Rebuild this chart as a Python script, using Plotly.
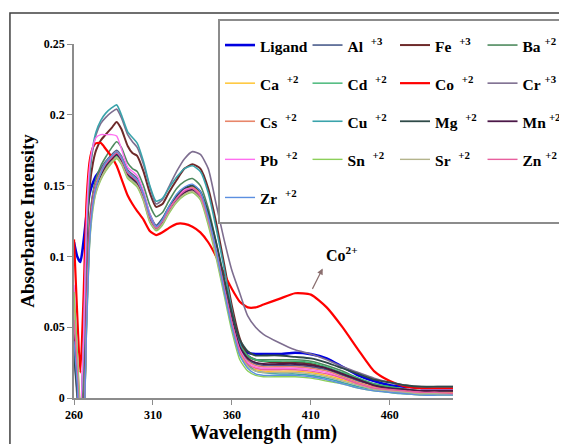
import plotly.graph_objects as go

wavelength = [260, 262, 264, 266, 268, 270, 272, 274, 277, 280, 284, 287, 290, 294, 297, 300,
              304, 308, 312, 316, 320, 325, 330, 335, 340, 345, 350, 355, 360, 365, 370, 375,
              380, 390, 400, 410, 420, 430, 440, 450, 460, 470, 480, 490, 500]

ligand = [0.110, 0.100, 0.096, 0.110, 0.130, 0.145, 0.152, 0.157, 0.161, 0.165, 0.169, 0.172, 0.168, 0.158, 0.155, 0.152,
          0.142, 0.127, 0.119, 0.125, 0.133, 0.141, 0.146, 0.147, 0.143, 0.127, 0.105, 0.079, 0.055, 0.038, 0.032, 0.031,
          0.031, 0.031, 0.032, 0.031, 0.028, 0.022, 0.016, 0.012, 0.009, 0.008, 0.007, 0.007, 0.007]
al = [0.035, 0.010, -0.020, 0.000, 0.075, 0.125, 0.144, 0.154, 0.162, 0.167, 0.172, 0.175, 0.171, 0.161, 0.158, 0.155,
      0.145, 0.130, 0.122, 0.127, 0.135, 0.143, 0.148, 0.150, 0.145, 0.128, 0.106, 0.080, 0.055, 0.036, 0.027, 0.024,
      0.023, 0.023, 0.023, 0.022, 0.020, 0.016, 0.012, 0.009, 0.007, 0.005, 0.005, 0.004, 0.004]
fe = [0.040, 0.010, -0.020, 0.030, 0.110, 0.150, 0.166, 0.175, 0.182, 0.186, 0.191, 0.195, 0.190, 0.178, 0.173, 0.171,
      0.160, 0.145, 0.135, 0.137, 0.145, 0.154, 0.162, 0.165, 0.162, 0.148, 0.124, 0.095, 0.065, 0.042, 0.030, 0.027,
      0.026, 0.025, 0.025, 0.024, 0.021, 0.017, 0.013, 0.009, 0.007, 0.006, 0.005, 0.005, 0.005]
ba = [0.050, 0.020, -0.020, 0.000, 0.080, 0.125, 0.145, 0.155, 0.164, 0.170, 0.177, 0.181, 0.177, 0.166, 0.162, 0.160,
      0.150, 0.136, 0.128, 0.131, 0.139, 0.148, 0.153, 0.155, 0.150, 0.134, 0.110, 0.083, 0.057, 0.037, 0.029, 0.027,
      0.027, 0.027, 0.027, 0.026, 0.023, 0.019, 0.014, 0.010, 0.008, 0.006, 0.005, 0.005, 0.005]
ca = [0.070, 0.030, -0.010, -0.020, 0.060, 0.115, 0.137, 0.147, 0.156, 0.162, 0.167, 0.170, 0.166, 0.156, 0.153, 0.150,
      0.140, 0.125, 0.119, 0.123, 0.131, 0.139, 0.144, 0.146, 0.141, 0.124, 0.102, 0.076, 0.051, 0.031, 0.023, 0.020,
      0.019, 0.019, 0.019, 0.018, 0.016, 0.013, 0.010, 0.007, 0.005, 0.004, 0.003, 0.003, 0.003]
cd = [0.040, 0.015, -0.020, -0.010, 0.065, 0.118, 0.139, 0.149, 0.157, 0.163, 0.168, 0.171, 0.167, 0.157, 0.154, 0.151,
      0.142, 0.127, 0.121, 0.126, 0.134, 0.142, 0.147, 0.149, 0.144, 0.128, 0.106, 0.080, 0.056, 0.038, 0.030, 0.027,
      0.026, 0.026, 0.026, 0.025, 0.022, 0.018, 0.014, 0.010, 0.008, 0.006, 0.005, 0.005, 0.004]
co = [0.112, 0.060, 0.018, 0.070, 0.140, 0.168, 0.177, 0.180, 0.180, 0.176, 0.170, 0.164, 0.155, 0.143, 0.137, 0.132,
      0.126, 0.118, 0.115, 0.117, 0.120, 0.123, 0.123, 0.121, 0.117, 0.110, 0.100, 0.088, 0.077, 0.068, 0.064, 0.064,
      0.066, 0.070, 0.074, 0.073, 0.064, 0.050, 0.034, 0.019, 0.012, 0.008, 0.007, 0.007, 0.007]
cr = [0.030, 0.000, -0.020, 0.040, 0.120, 0.158, 0.176, 0.186, 0.194, 0.198, 0.202, 0.204, 0.198, 0.186, 0.181, 0.177,
      0.165, 0.149, 0.137, 0.140, 0.149, 0.160, 0.169, 0.174, 0.172, 0.162, 0.137, 0.112, 0.090, 0.074, 0.058, 0.050,
      0.045, 0.039, 0.034, 0.031, 0.027, 0.022, 0.018, 0.014, 0.011, 0.009, 0.008, 0.008, 0.008]
cs = [0.050, 0.020, -0.020, -0.010, 0.070, 0.122, 0.142, 0.152, 0.160, 0.166, 0.171, 0.174, 0.170, 0.160, 0.157, 0.154,
      0.144, 0.128, 0.120, 0.125, 0.133, 0.141, 0.147, 0.149, 0.144, 0.127, 0.105, 0.079, 0.054, 0.035, 0.026, 0.023,
      0.022, 0.022, 0.022, 0.021, 0.019, 0.015, 0.011, 0.008, 0.006, 0.005, 0.004, 0.004, 0.004]
cu = [0.050, 0.020, -0.010, 0.030, 0.120, 0.160, 0.178, 0.188, 0.196, 0.201, 0.205, 0.207, 0.200, 0.188, 0.184, 0.180,
      0.167, 0.150, 0.139, 0.141, 0.148, 0.156, 0.162, 0.164, 0.160, 0.145, 0.120, 0.092, 0.062, 0.038, 0.024, 0.019,
      0.018, 0.017, 0.017, 0.016, 0.014, 0.011, 0.008, 0.006, 0.004, 0.003, 0.003, 0.003, 0.003]
mg = [0.030, 0.005, -0.030, -0.020, 0.060, 0.118, 0.140, 0.150, 0.158, 0.164, 0.170, 0.173, 0.169, 0.159, 0.156, 0.153,
      0.143, 0.128, 0.121, 0.126, 0.134, 0.142, 0.148, 0.150, 0.146, 0.131, 0.110, 0.085, 0.060, 0.041, 0.033, 0.030,
      0.030, 0.030, 0.029, 0.028, 0.025, 0.021, 0.017, 0.013, 0.011, 0.009, 0.008, 0.008, 0.008]
mn = [0.045, 0.015, -0.025, -0.015, 0.065, 0.120, 0.140, 0.150, 0.158, 0.164, 0.169, 0.172, 0.168, 0.158, 0.155, 0.152,
      0.142, 0.127, 0.119, 0.124, 0.132, 0.140, 0.145, 0.147, 0.142, 0.126, 0.104, 0.079, 0.055, 0.036, 0.028, 0.025,
      0.024, 0.024, 0.024, 0.023, 0.021, 0.017, 0.013, 0.009, 0.007, 0.006, 0.005, 0.005, 0.005]
pb = [0.080, 0.035, -0.010, 0.040, 0.130, 0.165, 0.178, 0.184, 0.186, 0.186, 0.186, 0.185, 0.176, 0.163, 0.160, 0.157,
      0.146, 0.130, 0.121, 0.125, 0.133, 0.141, 0.147, 0.148, 0.143, 0.126, 0.104, 0.078, 0.053, 0.034, 0.025, 0.022,
      0.021, 0.021, 0.021, 0.020, 0.018, 0.014, 0.010, 0.007, 0.005, 0.004, 0.004, 0.003, 0.003]
sn = [0.075, 0.035, -0.005, -0.020, 0.050, 0.110, 0.133, 0.145, 0.154, 0.160, 0.166, 0.169, 0.165, 0.155, 0.152, 0.149,
      0.139, 0.124, 0.118, 0.122, 0.130, 0.138, 0.143, 0.145, 0.140, 0.122, 0.099, 0.073, 0.047, 0.027, 0.019, 0.016,
      0.015, 0.015, 0.015, 0.014, 0.012, 0.010, 0.007, 0.005, 0.004, 0.003, 0.002, 0.002, 0.002]
sr = [0.060, 0.025, -0.010, -0.020, 0.055, 0.112, 0.135, 0.146, 0.155, 0.161, 0.167, 0.170, 0.166, 0.156, 0.153, 0.150,
      0.140, 0.125, 0.119, 0.123, 0.131, 0.139, 0.144, 0.146, 0.141, 0.124, 0.101, 0.075, 0.050, 0.030, 0.022, 0.019,
      0.018, 0.018, 0.018, 0.017, 0.015, 0.012, 0.009, 0.006, 0.005, 0.004, 0.003, 0.003, 0.003]
zn = [0.055, 0.020, -0.015, -0.010, 0.068, 0.121, 0.141, 0.151, 0.159, 0.165, 0.170, 0.173, 0.169, 0.159, 0.156, 0.153,
      0.143, 0.128, 0.120, 0.125, 0.133, 0.141, 0.146, 0.148, 0.143, 0.126, 0.104, 0.078, 0.053, 0.033, 0.024, 0.021,
      0.020, 0.020, 0.020, 0.019, 0.017, 0.014, 0.010, 0.007, 0.006, 0.005, 0.004, 0.004, 0.003]
zr = [0.040, 0.010, -0.030, -0.020, 0.050, 0.112, 0.137, 0.149, 0.159, 0.166, 0.171, 0.174, 0.170, 0.160, 0.157, 0.154,
      0.144, 0.129, 0.121, 0.126, 0.135, 0.144, 0.149, 0.151, 0.146, 0.128, 0.104, 0.076, 0.050, 0.030, 0.021, 0.017,
      0.016, 0.016, 0.016, 0.015, 0.013, 0.010, 0.007, 0.005, 0.004, 0.003, 0.002, 0.002, 0.002]

series_names = ["Ligand", "Al&nbsp;&nbsp;<sup>+3</sup>", "Fe&nbsp;&nbsp;<sup>+3</sup>", "Ba&nbsp;<sup>+2</sup>",
                "Ca&nbsp;&nbsp;<sup>+2</sup>", "Cd&nbsp;&nbsp;<sup>+2</sup>", "Co&nbsp;&nbsp;<sup>+2</sup>",
                "Cr&nbsp;<sup>+3</sup>", "Cs&nbsp;&nbsp;<sup>+2</sup>", "Cu&nbsp;&nbsp;<sup>+2</sup>",
                "Mg&nbsp;&nbsp;<sup>+2</sup>", "Mn&#8201;<sup>+2</sup>", "Pb&nbsp;&nbsp;<sup>+2</sup>",
                "Sn&nbsp;&nbsp;<sup>+2</sup>", "Sr&nbsp;&nbsp;<sup>+2</sup>", "Zn&nbsp;<sup>+2</sup>",
                "Zr&nbsp;&nbsp;<sup>+2</sup>"]
series_values = [ligand, al, fe, ba, ca, cd, co, cr, cs, cu, mg, mn, pb, sn, sr, zn, zr]
series_colors = ["#0000E0", "#4A5C8C", "#6E2A2A", "#4E8A5E", "#FFC125", "#3CB371", "#FF0000", "#7E6E90",
                 "#E8866A", "#3AA3AB", "#2F4A48", "#4B1848", "#FF6EF0", "#8CCF5A", "#B4B48C", "#E8609E",
                 "#5B8FE0"]
series_widths = [2.6, 1.6, 2, 1.6, 1.4, 1.4, 2.2, 1.6, 1.6, 1.6, 1.8, 1.8, 1.4, 1.4, 1.4, 1.4, 1.4]

x_ticks = [260, 310, 360, 410, 460]
y_ticks = [0, 0.05, 0.1, 0.15, 0.2, 0.25]

font_family = "Liberation Serif, Times New Roman, serif"

fig = go.Figure()
for name, vals, col, w in zip(series_names, series_values, series_colors, series_widths):
    label = '<span style="font-size:15.5px;baseline-shift:4px">' + name + '</span>'
    fig.add_trace(go.Scatter(x=wavelength, y=vals, mode="lines", name=label,
                             line=dict(color=col, width=w, shape="spline", smoothing=0.6)))

# page body has an 8px default margin, so the figure is 8px smaller and offsets are shifted
fig.update_layout(
    width=559, height=436,
    margin=dict(l=66, r=114, t=36, b=46, autoexpand=False),
    plot_bgcolor="white", paper_bgcolor="white",
    font=dict(family=font_family, color="black"),
    showlegend=True,
    legend=dict(
        orientation="h", x=0.380, y=1.0706, xanchor="left", yanchor="top",
        entrywidth=42.5, entrywidthmode="pixels", maxheight=1,
        font=dict(family=font_family, size=27, color="black", weight="bold"),
        bordercolor="#8C8C8C", borderwidth=2, bgcolor="white",
        itemwidth=30,
    ),
    xaxis=dict(
        range=[260, 500], tickvals=x_ticks, ticktext=[str(v) for v in x_ticks],
        showgrid=False, zeroline=False, showline=True, linecolor="#8C8C8C", linewidth=1.5,
        ticks="outside", ticklen=5, tickcolor="#8C8C8C",
        tickfont=dict(family=font_family, size=12, color="black", weight="bold"),
        title=dict(text="Wavelength (nm)", standoff=6,
                   font=dict(family=font_family, size=20, color="black", weight="bold")),
    ),
    yaxis=dict(
        range=[0, 0.25], tickvals=y_ticks, ticktext=["0", "0.05", "0.1", "0.15", "0.2", "0.25"],
        showgrid=False, zeroline=False, showline=True, linecolor="#8C8C8C", linewidth=1.5,
        ticks="outside", ticklen=5, tickcolor="#8C8C8C",
        tickfont=dict(family=font_family, size=12, color="black", weight="bold"),
        title=dict(text="Absorbance Intensity", standoff=4,
                   font=dict(family=font_family, size=19, color="black", weight="bold")),
    ),
    shapes=[dict(type="rect", xref="paper", yref="paper", x0=-0.169, x1=1.6, y0=-0.3, y1=1.0876,
                 line=dict(color="#404040", width=1.5), layer="below")],
    annotations=[
        dict(x=417.5, y=0.0915, ax=410.5, ay=0.076, xref="x", yref="y", axref="x", ayref="y",
             text="", showarrow=True, arrowhead=2, arrowsize=1, arrowwidth=1.2, arrowcolor="#8B6F6F"),
        dict(x=430, y=0.102, xref="x", yref="y", text="Co<sup>2+</sup>", showarrow=False,
             font=dict(family=font_family, size=16, color="black", weight="bold")),
    ],
)

fig.write_html("out.html")
